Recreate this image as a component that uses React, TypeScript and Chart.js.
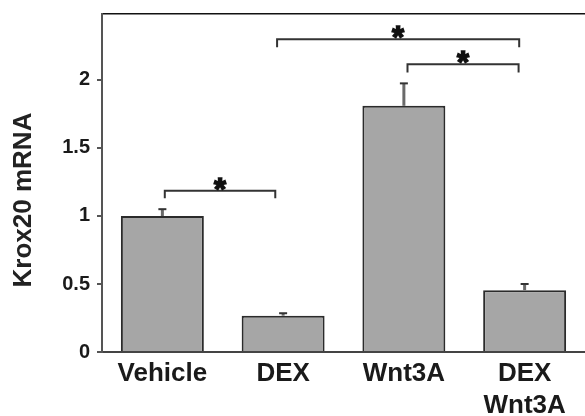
import React, { useEffect, useRef } from "react";
import { Chart, registerables } from "chart.js";

Chart.register(...registerables);

const categories: (string | string[])[] = ["Vehicle", "DEX", "Wnt3A", ["DEX", "Wnt3A"]];
const means = [1.0, 0.267, 1.81, 0.454];
const errors = [0.05, 0.018, 0.165, 0.046];
const yTicks = [0, 0.5, 1, 1.5, 2];
const yMax = 2.485;
const yTitle = "Krox20 mRNA";
// significance brackets: category index from/to, bracket height (data units), drop (data units)
const bracketFrom = [0.02, 0.95, 2.03];
const bracketTo = [0.935, 2.955, 2.95];
const bracketLevel = [1.186, 2.3, 2.115];
const bracketDrop = [0.055, 0.06, 0.06];
const bracketLabel = ["*", "*", "*"];

const FONT = "'Liberation Sans', Arial, Helvetica, sans-serif";

const errorBarPlugin = {
  id: "errorBars",
  afterDatasetsDraw(chart: any) {
    const ctx = chart.ctx;
    const meta = chart.getDatasetMeta(0);
    const ys = chart.scales.y;
    ctx.save();
    meta.data.forEach((bar: any, i: number) => {
      const x = bar.x;
      const yb = ys.getPixelForValue(means[i]);
      const yt = ys.getPixelForValue(means[i] + errors[i]);
      ctx.strokeStyle = "#6a6a6a";
      ctx.lineWidth = 3;
      ctx.beginPath();
      ctx.moveTo(x, yb);
      ctx.lineTo(x, yt);
      ctx.stroke();
      ctx.strokeStyle = "#333";
      ctx.lineWidth = 2;
      ctx.beginPath();
      ctx.moveTo(x - 4, yt);
      ctx.lineTo(x + 4, yt);
      ctx.stroke();
    });
    ctx.restore();
  },
};

const bracketPlugin = {
  id: "brackets",
  afterDraw(chart: any) {
    const ctx = chart.ctx;
    const xs = chart.scales.x;
    const ys = chart.scales.y;
    ctx.save();
    for (let i = 0; i < bracketFrom.length; i++) {
      const x1 = xs.getPixelForValue(bracketFrom[i]);
      const x2 = xs.getPixelForValue(bracketTo[i]);
      const y = ys.getPixelForValue(bracketLevel[i]);
      const yd = ys.getPixelForValue(bracketLevel[i] - bracketDrop[i]);
      ctx.strokeStyle = "#333";
      ctx.lineWidth = 2;
      ctx.beginPath();
      ctx.moveTo(x1, yd);
      ctx.lineTo(x1, y);
      ctx.lineTo(x2, y);
      ctx.lineTo(x2, yd);
      ctx.stroke();
      ctx.fillStyle = "#111";
      ctx.strokeStyle = "#111";
      ctx.lineWidth = 1.5;
      ctx.font = `bold 31px ${FONT}`;
      ctx.textAlign = "center";
      ctx.textBaseline = "alphabetic";
      const cx = (x1 + x2) / 2;
      ctx.fillText(bracketLabel[i], cx, y + 9);
      ctx.strokeText(bracketLabel[i], cx, y + 9);
    }
    ctx.restore();
  },
};

const yTitlePlugin = {
  id: "yTitle",
  afterDraw(chart: any) {
    const ctx = chart.ctx;
    const area = chart.chartArea;
    ctx.save();
    ctx.translate(24, (area.top + area.bottom) / 2 + 17);
    ctx.rotate(-Math.PI / 2);
    ctx.fillStyle = "#222";
    ctx.font = `bold 26px ${FONT}`;
    ctx.textAlign = "center";
    ctx.textBaseline = "middle";
    ctx.fillText(yTitle, 0, 0);
    ctx.restore();
  },
};

export default function App() {
  const ref = useRef<HTMLCanvasElement>(null);
  useEffect(() => {
    if (!ref.current) return;
    const chart = new Chart(ref.current, {
      type: "bar",
      data: {
        labels: categories,
        datasets: [
          {
            data: means,
            backgroundColor: "#a6a6a6",
            borderColor: "#2b2b2b",
            borderWidth: 2,
            barPercentage: 0.687,
            categoryPercentage: 1,
          },
        ],
      },
      options: {
        animation: false,
        responsive: false,
        devicePixelRatio: 1,
        layout: { padding: { top: 14, left: 0, right: 0, bottom: 0 } },
        plugins: { legend: { display: false }, tooltip: { enabled: false } },
        scales: {
          x: {
            type: "category",
            position: "bottom",
            grid: { display: false, drawTicks: false },
            border: { display: true, color: "#444", width: 2 },
            ticks: {
              padding: 6,
              color: "#1a1a1a",
              font: { family: FONT, size: 26, weight: "bold", lineHeight: 1.23 },
              maxRotation: 0,
              autoSkip: false,
            },
            afterFit(scale: any) {
              scale.height = 64;
              scale.paddingLeft = 0;
              scale.paddingRight = 0;
            },
          },
          x2: {
            type: "category",
            position: "top",
            labels: categories as any,
            grid: { display: false, drawTicks: false },
            border: { display: true, color: "#111", width: 1.5 },
            ticks: { display: false },
            afterFit(scale: any) {
              scale.height = 0;
              scale.paddingLeft = 0;
              scale.paddingRight = 0;
            },
          },
          y: {
            min: 0,
            max: yMax,
            grid: { drawOnChartArea: false, drawTicks: true, tickLength: 5, color: "#555", lineWidth: 2 },
            border: { display: true, color: "#555", width: 2 },
            ticks: {
              padding: 7,
              color: "#1a1a1a",
              font: { family: FONT, size: 20, weight: "bold" },
              callback: (v: any) => String(Number(v)),
            },
            afterBuildTicks(scale: any) {
              scale.ticks = yTicks.map((v) => ({ value: v }));
            },
            afterFit(scale: any) {
              scale.width = 102;
              scale.paddingTop = 0;
              scale.paddingBottom = 0;
            },
          },
        },
      },
      plugins: [errorBarPlugin, bracketPlugin, yTitlePlugin],
    });
    return () => chart.destroy();
  }, []);
  return (
    <div style={{ position: "absolute", left: 0, top: 0, width: 585, height: 416, background: "#fff" }}>
      <canvas ref={ref} width={585} height={416} />
    </div>
  );
}
